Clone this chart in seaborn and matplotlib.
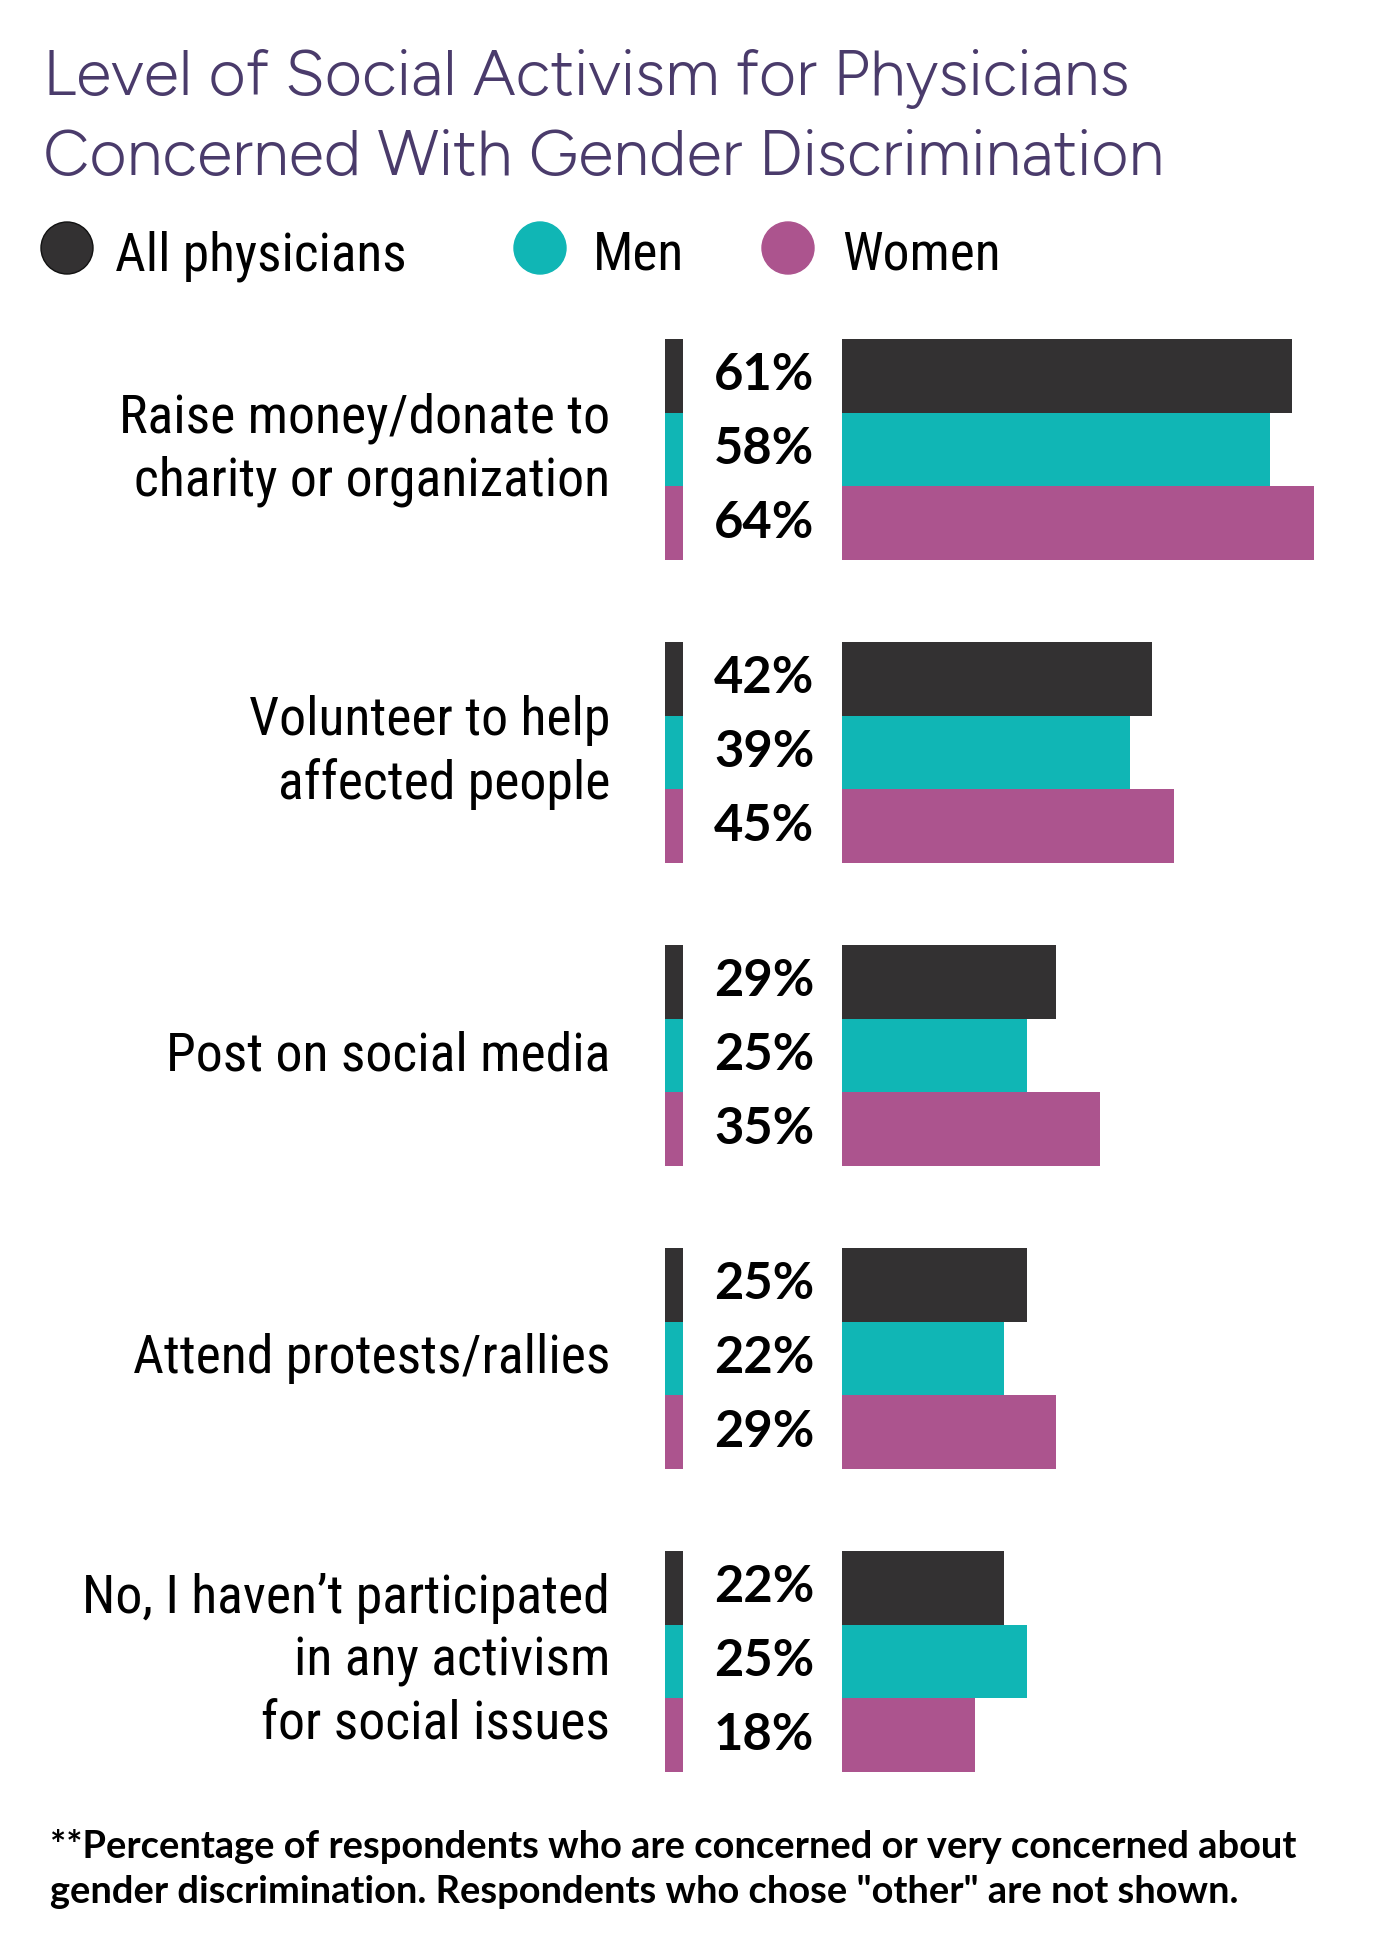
import numpy as np
import pandas as pd
import seaborn as sns
import matplotlib.pyplot as plt
import matplotlib.transforms as mtransforms
import matplotlib.font_manager as fm
from matplotlib.patches import Rectangle, Ellipse

# Data
activities = ["Raise money/donate to\ncharity or organization",
              "Volunteer to help\naffected people",
              "Post on social media",
              "Attend protests/rallies",
              "No, I haven\u2019t participated\nin any activism\nfor social issues"]
groups = ["All physicians", "Men", "Women"]
all_physicians = [61, 42, 29, 25, 22]
men = [58, 39, 25, 22, 25]
women = [64, 45, 35, 29, 18]
colors = ["#333132", "#10B6B5", "#AC548E"]

title_lines = ["Level of Social Activism for Physicians",
               "Concerned With Gender Discrimination"]
footnote_lines = ["**Percentage of respondents who are concerned or very concerned about",
                  "gender discrimination. Respondents who chose \"other\" are not shown."]

df = pd.DataFrame({
    "activity": activities * 3,
    "group": np.repeat(groups, len(activities)),
    "pct": all_physicians + men + women,
})


def pick(cands):
    have = {f.name for f in fm.fontManager.ttflist}
    for c in cands:
        if c in have:
            return c
    return "DejaVu Sans"


narrow = pick(["Roboto Condensed", "Sofia Sans Condensed", "Liberation Sans Narrow"])
sans = pick(["Figtree", "Lato", "Roboto"])
sans_bold = pick(["Lato", "Roboto"])

W, H = 1380, 1942
fig = plt.figure(figsize=(W / 100, H / 100), dpi=100)
fig.patch.set_facecolor("white")
renderer = fig.canvas.get_renderer()


def fit(text, family, weight, target):
    # font size that gives the text the width it has in the reference
    t = fig.text(0, 0, text, fontsize=30, family=family, weight=weight)
    w = t.get_window_extent(renderer).width
    t.remove()
    return 30 * target / w


fs_title = fit(title_lines[0], sans, "normal", 1088)
fs_leg = fit("All physicians", narrow, "normal", 291)
fs_cat = fit("Raise money/donate to", narrow, "normal", 491)
fs_pct = fit("42%", sans_bold, "bold", 100)
fs_foot = fit(footnote_lines[0], sans_bold, "bold", 1245)

# axes: bars start at x=842px, 7.38 px per percent
ax_w = 70 * 7.38
ax = fig.add_axes([842 / W, 1 - 1813 / H, ax_w / W, 1515 / H])
sns.barplot(data=df, y="activity", x="pct", hue="group", palette=colors,
            width=0.73, orient="h", saturation=1, legend=False, ax=ax)
ax.set_xlim(0, 70)
ax.set_ylim(4.5, -0.5)
for s in ax.spines.values():
    s.set_visible(False)
ax.set_xticks([])
ax.set_xlabel("")
ax.set_ylabel("")
ax.tick_params(axis="y", length=0, labelleft=False)

blend = mtransforms.blended_transform_factory(ax.transAxes, ax.transData)

# category labels, right aligned left of the colour strip
for y, name in zip(ax.get_yticks(), activities):
    ax.text((610 - 842) / ax_w, y, name, transform=blend, ha="right", va="center",
            fontsize=fs_cat, family=narrow, color="black", linespacing=1.3)

# value labels and colour strip
for cont, vals, c in zip(ax.containers, [all_physicians, men, women], colors):
    for bar, v in zip(cont, vals):
        y = bar.get_y() + bar.get_height() / 2
        ax.text((714 - 842) / ax_w, y, f"{v}%", transform=blend, ha="left", va="center",
                fontsize=fs_pct, fontweight="bold", family=sans_bold, color="black")
        ax.add_patch(Rectangle(((665 - 842) / ax_w, bar.get_y()), 18 / ax_w, bar.get_height(),
                               transform=blend, color=c, clip_on=False, lw=0))

# title
fig.text(43 / W, 1 - 95 / H, title_lines[0], fontsize=fs_title, family=sans, color="#4A3B6B", va="baseline")
fig.text(43 / W, 1 - 175 / H, title_lines[1], fontsize=fs_title, family=sans, color="#4A3B6B", va="baseline")

# legend
leg_x = [67, 540, 788]
leg_tx = [115, 593, 842]
for g, c, cx, tx in zip(groups, colors, leg_x, leg_tx):
    fig.add_artist(Ellipse((cx / W, 1 - 248 / H), 52 / W, 52 / H, transform=fig.transFigure,
                           facecolor=c, edgecolor="#111111" if g == "All physicians" else c, lw=1))
    fig.text(tx / W, 1 - 270 / H, g, fontsize=fs_leg, family=narrow, color="black", va="baseline")

# footnote
fig.text(50 / W, 1 - 1858 / H, footnote_lines[0], fontsize=fs_foot, family=sans_bold, weight="bold",
         color="black", va="baseline")
fig.text(50 / W, 1 - 1903 / H, footnote_lines[1], fontsize=fs_foot, family=sans_bold, weight="bold",
         color="black", va="baseline")

plt.savefig("out.png", dpi=100, facecolor="white")
